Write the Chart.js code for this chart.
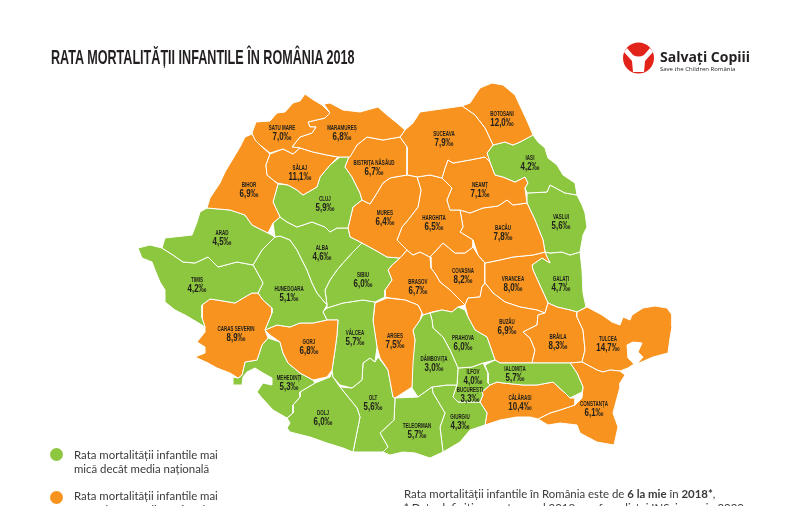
<!DOCTYPE html>
<html lang="ro">
<head>
<meta charset="utf-8">
<title>Rata mortalității infantile în România 2018</title>
<script src="https://cdn.jsdelivr.net/npm/chart.js@4/dist/chart.umd.min.js"></script>
<style>
html, body { margin: 0; padding: 0; background: #fff; }
#page { position: relative; width: 800px; height: 506px; overflow: hidden; }
#myChart { position: absolute; left: 0; top: 0; }
.txt { position: absolute; white-space: nowrap; color: #3a3a3a; font-family: Lato, sans-serif; font-size: 11.4px; line-height: 14px; }
#title { left: 51px; top: 46px; font: bold 20px "Liberation Sans", sans-serif; color: #231f20; line-height: 22px; transform: scaleX(0.63); transform-origin: left center; }
.dot { position: absolute; left: 50px; width: 13px; height: 13px; border-radius: 50%; }
#brand { left: 660px; top: 48px; font: bold 14px "Open Sans", sans-serif; color: #231f20; line-height: 18px; }
#brand2 { left: 660px; top: 65px; font: 6px "Open Sans", sans-serif; color: #231f20; line-height: 9px; }
#logo { position: absolute; left: 622px; top: 41px; }
</style>
</head>
<body>
<div id="page">
  <canvas id="myChart" width="800" height="506"></canvas>
  <div id="title" class="txt">RATA MORTALITĂȚII INFANTILE ÎN ROMÂNIA 2018</div>
  <svg id="logo" width="33" height="33" viewBox="0 0 33 33">
    <circle cx="16.5" cy="17" r="15.5" fill="#e2231a"/>
    <path d="M5 7 L11 14 Q16.5 17 22 14 L28 7 L31 11 L23 20 L22 31 L11 31 L10 20 L2 11 Z" fill="#fff"/>
    <circle cx="16.5" cy="7.5" r="5.5" fill="#e2231a"/>
  </svg>
  <div id="brand" class="txt">Salvați Copiii</div>
  <div id="brand2" class="txt">Save the Children România</div>
  <div class="dot" style="top:448px;background:#8dc63f"></div>
  <div class="txt" style="left:74px;top:448px">Rata mortalității infantile mai<br>mică decât media națională</div>
  <div class="dot" style="top:491px;background:#f7931e"></div>
  <div class="txt" style="left:74px;top:489px">Rata mortalității infantile mai<br>mare decât media națională</div>
  <div class="txt" style="left:404px;top:487px">Rata mortalității infantile în România este de <b>6 la mie</b> în <b>2018*</b>,<br>* Date definitive pentru anul 2018, conform listei INS, ianuarie 2020</div>
</div>
<script>
const counties = ['SATU MARE','MARAMUREȘ','SĂLAJ','BISTRIȚA NĂSĂUD','BIHOR','CLUJ','ARAD','ALBA','MUREȘ','SUCEAVA','BOTOȘANI','IAȘI','NEAMȚ','HARGHITA','BACĂU','VASLUI','TIMIȘ','HUNEDOARA','SIBIU','CARAȘ SEVERIN','GORJ','VÂLCEA','ARGEȘ','MEHEDINȚI','DOLJ','OLT','TELEORMAN','DÂMBOVIȚA','PRAHOVA','ILFOV','BUCUREȘTI','GIURGIU','IALOMIȚA','CĂLĂRAȘI','CONSTANȚA','TULCEA','BRĂILA','BUZĂU','VRANCEA','GALAȚI','BRAȘOV','COVASNA'];
const rates = [7.0,6.8,11.1,6.7,6.9,5.9,4.5,4.6,6.4,7.9,12.0,4.2,7.1,6.5,7.8,5.6,4.2,5.1,6.0,8.9,6.8,5.7,7.5,5.3,6.0,5.6,5.7,3.0,6.0,4.0,3.3,4.3,5.7,10.4,6.1,14.7,8.3,6.9,8.0,4.7,6.7,8.2];
const labelX = [282,342,300,374,249,325,222,322,385,444,502,530,480,434,503,561,197,289,363,236,309,355,395,289,323,373,417,434,463,473,470,460,515,520,594,608,558,507,513,561,418,463];
const labelY = [128,128,168,163,185,199,233,248,213,134,114,158,185,218,228,217,280,289,275,329,342,333,336,378,413,398,426,359,338,372,390,417,369,398,404,339,337,322,279,279,282,271];

const national = 6;
const orange = '#f7931e';
const green = '#8dc63f';

// county outlines, same order as counties
const satuMare = [[252,133],[256,122],[270,121],[277,113],[285,112],[293,103],[300,101],[305,94],[312,99],[322,105],[330,113],[325,118],[308,122],[310,127],[316,127],[312,133],[300,137],[292,147],[300,148],[293,154],[283,149],[270,153],[260,145],[255,140]];
const maramures = [[324,104],[330,103],[343,110],[360,112],[378,107],[387,115],[397,123],[405,130],[400,137],[383,140],[367,137],[357,145],[350,157],[338,157],[327,155],[313,152],[300,148],[292,147],[300,137],[312,133],[316,127],[310,127],[308,122],[325,118],[330,113]];
const salaj = [[270,154],[283,149],[293,154],[300,148],[313,152],[327,155],[338,157],[330,165],[320,177],[317,187],[303,195],[297,190],[288,185],[277,183],[267,175],[266,165]];
const bistrita = [[400,137],[407,147],[407,175],[395,177],[390,178],[383,183],[377,193],[370,204],[362,200],[360,193],[352,177],[345,167],[349,157],[357,145],[367,137],[383,140]];
const bihor = [[252,134],[245,137],[240,147],[225,172],[220,183],[210,198],[207,208],[230,210],[245,215],[252,225],[268,233],[273,223],[280,217],[273,202],[278,184],[267,175],[266,165],[270,154],[260,145]];
const cluj = [[340,157],[349,157],[345,167],[352,177],[360,193],[362,200],[353,207],[348,228],[337,228],[330,232],[325,227],[312,222],[297,227],[287,222],[280,217],[273,202],[278,184],[288,185],[297,190],[303,195],[317,187],[320,177],[330,165]];
const arad = [[207,208],[200,212],[197,222],[192,235],[165,238],[162,248],[173,255],[183,262],[195,263],[208,257],[218,267],[237,262],[253,265],[262,250],[275,237],[268,233],[252,225],[245,215],[230,210]];
const alba = [[273,223],[280,217],[287,222],[297,227],[312,222],[325,227],[330,232],[337,228],[348,228],[350,237],[362,243],[352,253],[343,263],[337,270],[330,280],[325,290],[327,305],[317,293],[312,283],[307,270],[297,250],[290,240],[280,236],[275,237]];
const mures = [[362,200],[370,204],[377,193],[383,183],[390,178],[395,177],[407,175],[417,177],[421,190],[418,207],[408,220],[402,227],[397,240],[407,250],[400,258],[387,257],[375,250],[362,243],[350,237],[348,228],[353,207]];
const suceava = [[405,130],[413,123],[420,112],[462,106],[475,115],[485,128],[493,145],[487,153],[490,162],[485,157],[470,160],[453,163],[448,160],[445,168],[442,178],[430,175],[417,177],[407,175],[407,147],[400,137]];
const botosani = [[462,106],[470,103],[480,88],[492,83],[503,85],[515,95],[522,110],[528,123],[533,135],[520,142],[513,145],[505,142],[493,145],[485,128],[475,115]];
const iasi = [[493,145],[505,142],[513,145],[520,142],[533,135],[538,142],[545,148],[548,158],[557,165],[563,175],[575,183],[577,195],[565,193],[550,185],[547,192],[527,193],[525,188],[528,183],[525,177],[515,182],[503,177],[495,175],[490,162],[487,153]];
const neamt = [[442,178],[445,168],[448,160],[453,163],[470,160],[485,157],[490,162],[495,175],[503,177],[515,182],[525,177],[528,183],[525,188],[527,203],[513,205],[507,200],[498,206],[483,208],[470,213],[460,210],[450,210],[447,200],[452,188]];
const harghita = [[417,177],[430,175],[442,178],[452,188],[447,200],[450,210],[460,210],[463,227],[460,232],[473,240],[473,247],[465,253],[455,253],[443,243],[430,257],[420,252],[413,255],[407,250],[397,240],[402,227],[408,220],[418,207],[421,190]];
const bacau = [[460,210],[470,213],[483,208],[498,206],[507,200],[513,205],[527,203],[535,220],[543,240],[545,252],[533,255],[513,257],[500,260],[485,263],[478,255],[473,240],[460,232],[463,227]];
const vaslui = [[527,193],[547,192],[550,185],[565,193],[577,195],[582,205],[585,213],[587,227],[583,235],[580,252],[570,255],[562,252],[550,253],[545,252],[543,240],[535,220],[527,203]];
const timis = [[138,248],[150,245],[162,248],[173,255],[183,262],[195,263],[208,257],[218,267],[237,262],[253,265],[257,272],[263,283],[258,293],[252,293],[245,297],[235,303],[217,300],[210,299],[202,305],[202,318],[205,327],[197,322],[185,315],[175,310],[165,302],[165,290],[160,282],[155,270],[152,262],[142,258]];
const hunedoara = [[275,237],[262,250],[253,265],[257,272],[263,283],[258,293],[263,300],[272,308],[272,313],[268,323],[265,330],[277,325],[290,327],[300,323],[313,323],[327,320],[323,312],[327,305],[317,293],[312,283],[307,270],[297,250],[290,240],[280,236]];
const sibiu = [[362,243],[375,250],[387,257],[400,258],[392,265],[388,270],[392,280],[385,290],[385,297],[375,302],[363,300],[343,303],[327,308],[327,305],[325,290],[330,280],[337,270],[343,263],[352,253]];
const caras = [[202,305],[210,299],[217,300],[235,303],[245,297],[252,293],[258,293],[263,300],[272,308],[272,313],[268,323],[265,330],[268,338],[262,345],[257,360],[245,362],[242,375],[238,378],[230,373],[217,368],[208,363],[195,357],[205,353],[205,347],[197,342],[205,332],[205,327],[202,318]];
const gorj = [[265,330],[277,325],[290,327],[300,323],[313,323],[327,320],[338,320],[337,335],[335,350],[332,370],[327,377],[313,380],[300,373],[288,363],[283,353],[280,342],[270,335]];
const valcea = [[327,308],[343,303],[363,300],[375,302],[373,320],[377,347],[375,362],[370,358],[363,363],[362,380],[352,388],[340,385],[333,377],[332,370],[335,350],[337,335],[338,320],[327,320],[323,312]];
const arges = [[375,303],[387,298],[405,300],[418,305],[422,313],[420,320],[413,330],[415,340],[413,363],[412,387],[395,398],[393,397],[388,370],[380,358],[377,347],[373,322]];
const mehedinti = [[268,338],[280,342],[283,353],[288,363],[300,373],[313,380],[315,383],[300,392],[300,397],[293,405],[293,413],[287,418],[273,410],[262,398],[257,392],[263,383],[272,385],[272,378],[263,373],[255,368],[247,372],[243,377],[242,385],[233,385],[233,377],[238,378],[242,375],[245,362],[257,360],[262,345]];
const dolj = [[315,383],[330,377],[332,372],[333,377],[340,387],[357,408],[360,417],[353,452],[343,448],[327,443],[310,437],[290,432],[287,428],[290,423],[287,418],[293,413],[293,405],[300,397],[300,392]];
const olt = [[340,387],[352,388],[362,380],[363,363],[370,358],[375,362],[378,357],[388,370],[393,397],[395,398],[394,420],[380,433],[388,447],[383,452],[353,452],[360,417],[357,408]];
const teleorman = [[395,398],[418,397],[432,387],[433,393],[445,413],[440,427],[443,452],[430,458],[415,453],[403,452],[390,455],[383,452],[388,447],[380,433],[394,420]];
const dambovita = [[423,315],[430,313],[432,320],[433,328],[443,337],[450,350],[458,368],[457,385],[447,385],[432,387],[418,397],[412,388],[412,363],[415,340],[413,330],[420,320]];
const prahova = [[430,313],[442,310],[452,312],[458,307],[465,310],[468,317],[475,330],[487,337],[495,360],[483,363],[472,367],[458,368],[450,350],[443,337],[433,328],[432,320]];
const ilfov = [[458,368],[472,367],[483,363],[488,373],[488,383],[490,385],[482,392],[483,395],[480,402],[473,402],[458,402],[453,397],[457,385]];
const bucuresti = [[457,387],[480,385],[478,395],[473,400],[458,402],[453,397]];
const giurgiu = [[432,387],[447,385],[457,385],[453,397],[458,402],[473,402],[480,402],[487,413],[485,425],[470,430],[460,442],[443,452],[440,427],[445,413],[433,393]];
const ialomita = [[485,365],[495,360],[500,363],[523,363],[532,363],[537,363],[570,363],[577,373],[583,387],[582,392],[570,398],[565,393],[553,382],[537,385],[523,385],[503,383],[497,382],[490,385],[488,383],[488,373]];
const calarasi = [[490,385],[497,382],[503,383],[523,385],[537,385],[553,382],[565,393],[570,398],[575,398],[575,405],[560,410],[550,413],[538,419],[530,417],[517,417],[500,420],[485,425],[487,413],[480,402],[483,395],[482,392]];
const constanta = [[570,363],[582,362],[597,370],[603,372],[610,370],[620,371],[625,375],[620,383],[620,387],[617,398],[613,413],[618,427],[614,445],[597,442],[580,433],[577,425],[560,423],[548,425],[538,419],[550,413],[560,410],[575,405],[582,398],[583,387],[577,373]];
const tulcea = [[577,312],[587,307],[602,315],[612,322],[620,325],[623,317],[630,320],[632,315],[643,308],[655,306],[667,308],[672,315],[672,327],[670,338],[668,353],[653,357],[637,364],[643,357],[638,352],[642,343],[633,342],[627,345],[628,358],[634,364],[628,368],[620,371],[610,370],[603,372],[597,370],[582,362],[585,350],[583,330],[577,317]];
const braila = [[538,315],[545,313],[548,303],[557,307],[570,310],[577,312],[577,317],[583,330],[585,350],[582,362],[570,363],[537,363],[532,363],[535,350],[530,338],[523,332],[537,325]];
const buzau = [[465,305],[468,298],[480,297],[482,287],[485,283],[493,293],[505,302],[520,307],[537,310],[545,313],[538,315],[537,325],[523,332],[530,338],[535,350],[532,363],[523,363],[500,363],[495,360],[487,337],[475,330],[468,317]];
const vrancea = [[485,263],[500,260],[513,257],[533,255],[545,252],[547,257],[550,263],[542,258],[532,265],[533,270],[548,303],[545,313],[537,310],[520,307],[505,302],[493,293],[485,283],[485,270]];
const galati = [[545,252],[550,253],[562,252],[570,255],[580,252],[582,270],[583,293],[586,307],[577,312],[570,310],[557,307],[548,303],[533,270],[532,265],[542,258],[550,263],[547,257]];
const brasov = [[407,250],[413,255],[420,252],[430,257],[431,268],[436,275],[440,282],[450,290],[465,305],[458,307],[452,312],[442,310],[432,312],[423,315],[418,305],[405,300],[390,298],[385,297],[385,290],[392,280],[388,270],[392,265],[400,258]];
const covasna = [[430,257],[443,243],[455,253],[465,253],[473,247],[478,255],[485,263],[485,270],[485,283],[482,287],[480,297],[468,298],[465,305],[450,290],[440,282],[436,275],[431,268]];

const outlines = [satuMare,maramures,salaj,bistrita,bihor,cluj,arad,alba,mures,suceava,botosani,iasi,neamt,harghita,bacau,vaslui,timis,hunedoara,sibiu,caras,gorj,valcea,arges,mehedinti,dolj,olt,teleorman,dambovita,prahova,ilfov,bucuresti,giurgiu,ialomita,calarasi,constanta,tulcea,braila,buzau,vrancea,galati,brasov,covasna];

const datasets = counties.map((name, i) => {
  const pts = outlines[i].concat([outlines[i][0]]).map(p => ({ x: p[0], y: p[1] }));
  const color = rates[i] > national ? orange : green;
  return {
    label: name,
    data: pts,
    showLine: true,
    fill: 'shape',
    backgroundColor: color,
    borderColor: '#fff',
    borderWidth: 1,
    pointRadius: 0,
    pointHoverRadius: 0
  };
});
// Bucuresti sits on top of Ilfov
const buc = datasets.splice(counties.indexOf('BUCUREȘTI'), 1)[0];
datasets.push(buc);

function narrowText(ctx, text, x, y, squeeze) {
  ctx.save();
  ctx.translate(x, y);
  ctx.scale(squeeze, 1);
  ctx.fillText(text, 0, 0);
  ctx.restore();
}

const countyLabels = {
  id: 'countyLabels',
  afterDatasetsDraw(chart) {
    const ctx = chart.ctx;
    ctx.save();
    ctx.textAlign = 'center';
    ctx.textBaseline = 'middle';
    ctx.fillStyle = '#1d1d1b';
    counties.forEach((name, i) => {
      const x = chart.scales.x.getPixelForValue(labelX[i]);
      const y = chart.scales.y.getPixelForValue(labelY[i]);
      ctx.font = 'bold 7.5px "Liberation Sans"';
      narrowText(ctx, name, x, y, 0.6);
      ctx.font = 'bold 11px "Liberation Sans"';
      narrowText(ctx, rates[i].toFixed(1).replace('.', ',') + '‰', x, y + 9, 0.72);
    });
    ctx.restore();
  }
};

new Chart(document.getElementById('myChart'), {
  type: 'scatter',
  data: { datasets },
  options: {
    responsive: false,
    animation: false,
    events: [],
    layout: { padding: 0 },
    plugins: { legend: { display: false }, tooltip: { enabled: false }, title: { display: false } },
    scales: {
      x: { type: 'linear', min: 0, max: 800, display: false },
      y: { type: 'linear', min: 0, max: 506, reverse: true, display: false }
    }
  },
  plugins: [countyLabels]
});
</script>
</body>
</html>
